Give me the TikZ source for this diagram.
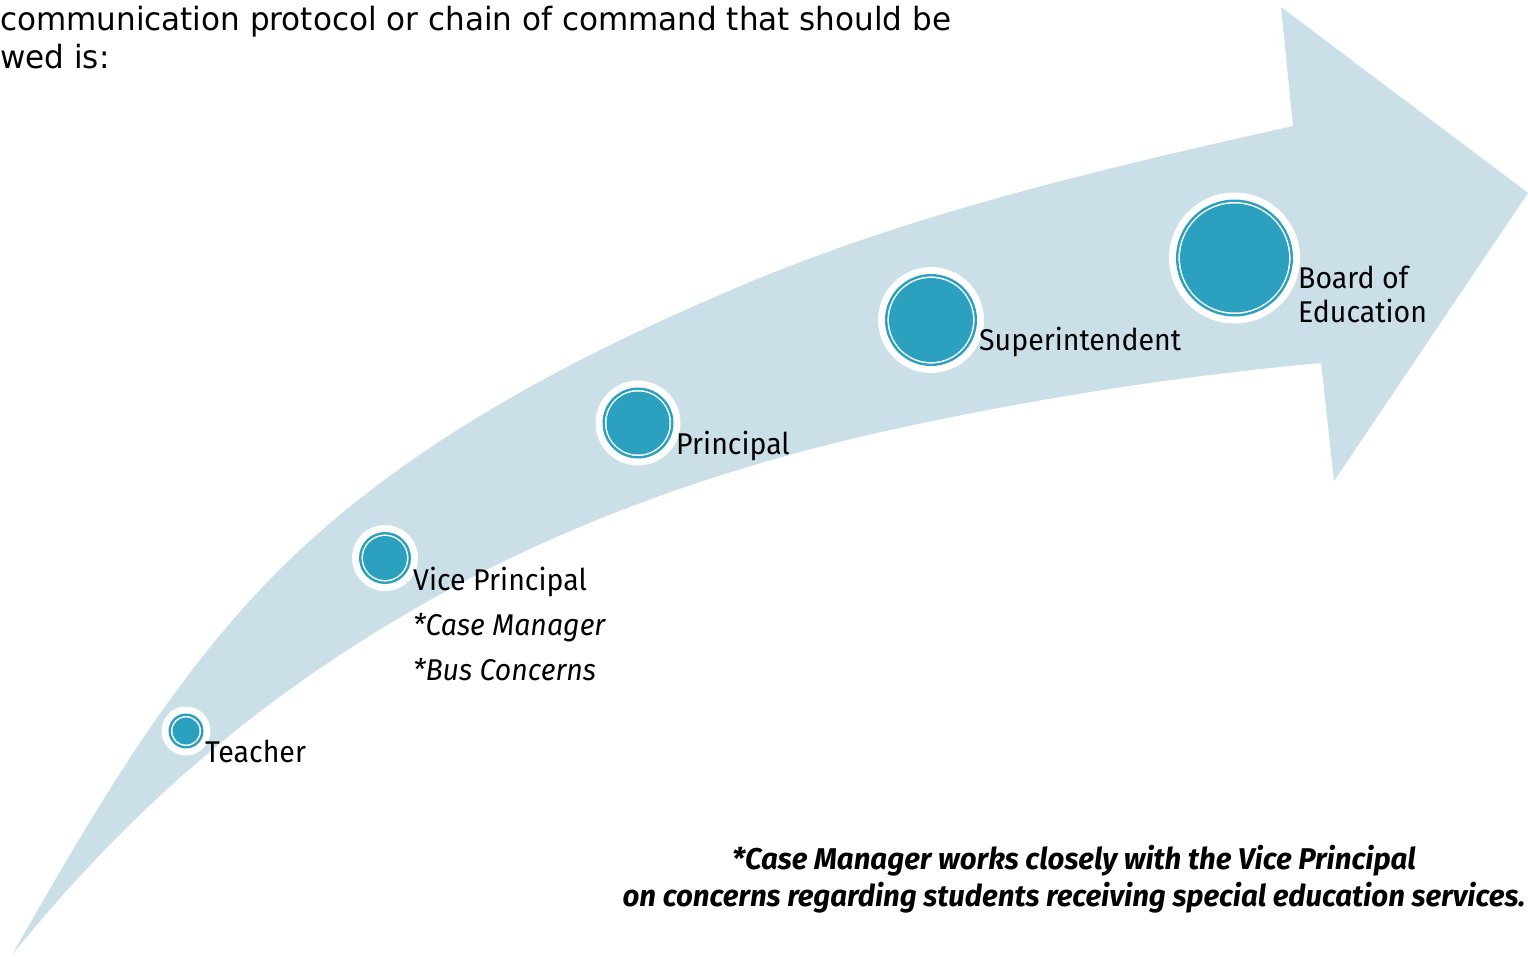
\documentclass[tikz,border=0pt]{standalone}
\usepackage{fontspec}
\setmainfont[FakeStretch=0.95]{Fira Sans}
\newfontfamily\headfont[FakeStretch=0.97]{DejaVu Sans}
\newfontfamily\notefont[FakeStretch=0.98]{Fira Sans}
\definecolor{arrowblue}{RGB}{203,223,232}
\definecolor{tealc}{RGB}{43,161,191}
\newcommand{\mstone}[4]{%
  \node[halo=#4*2pt+22pt] (#1) at (#2,#3) {};
  \draw[tealc, line width=2.4pt] (#1.center) circle[radius=#4pt+2.8pt];
  \fill[tealc] (#1.center) circle[radius=#4pt];
}
\begin{document}
\begin{tikzpicture}[x=1pt,y=-1pt,
  lbl/.style={anchor=base west, inner sep=0pt, font=\fontsize{30}{33}\selectfont},
  ilbl/.style={lbl, font=\fontsize{30}{33}\selectfont\itshape},
  halo/.style={circle, fill=white, inner sep=0pt, minimum size=#1},
  headtxt/.style={anchor=base west, inner sep=0pt, font=\headfont\fontsize{32}{36}\selectfont},
  notetxt/.style={anchor=base, inner sep=0pt, font=\notefont\bfseries\itshape\fontsize{30}{32}\selectfont}]
\useasboundingbox (0,0) rectangle (1528,956);
% arrow
\coordinate (tail) at (12,955);
\coordinate (notchT) at (1293,126);
\coordinate (headT) at (1281,7);
\coordinate (tip) at (1528,193);
\coordinate (headB) at (1334,481);
\coordinate (notchB) at (1321,363);
\fill[arrowblue] (tail)
  .. controls (84,829) and (158,699) .. (257,593)
  .. controls (389,451) and (571,357) .. (750,282)
  .. controls (924,210) and (1110,167) .. (notchT)
  -- (headT) -- (tip) -- (headB) -- (notchB)
  .. controls (1177,376) and (1032,399) .. (890,430)
  .. controls (731,465) and (572,520) .. (430,600)
  .. controls (271,690) and (138,799) .. (tail) -- cycle;
% milestones
\mstone{teacher}{186}{731}{13.5}
\mstone{vp}{385}{558}{22}
\mstone{principal}{638}{423}{31.5}
\mstone{super}{931}{320}{42}
\mstone{board}{1234.5}{258}{54.5}
% labels
\node[lbl] (tTeacher) at (205,762) {Teacher};
\node[lbl] (tVP) at (413,590) {Vice Principal};
\node[ilbl] (tCM) at (413,635) {*Case Manager};
\node[ilbl] (tBus) at (413,680) {*Bus Concerns};
\node[lbl] (tPrin) at (676,454) {Principal};
\node[lbl] (tSup) at (979,350) {Superintendent};
\node[lbl] (tBoard1) at (1298,288) {Board of};
\node[lbl] (tBoard2) at (1298,322) {Education};
% header
\node[headtxt] (h1) at (0,30) {communication protocol or chain of command that should be};
\node[headtxt] (h2) at (0,68) {wed is:};
% note
\node[notetxt] (n1) at (1074,869) {*Case Manager works closely with the Vice Principal};
\node[notetxt] (n2) at (1074,906) {on concerns regarding students receiving special education services.};
\end{tikzpicture}
\end{document}
